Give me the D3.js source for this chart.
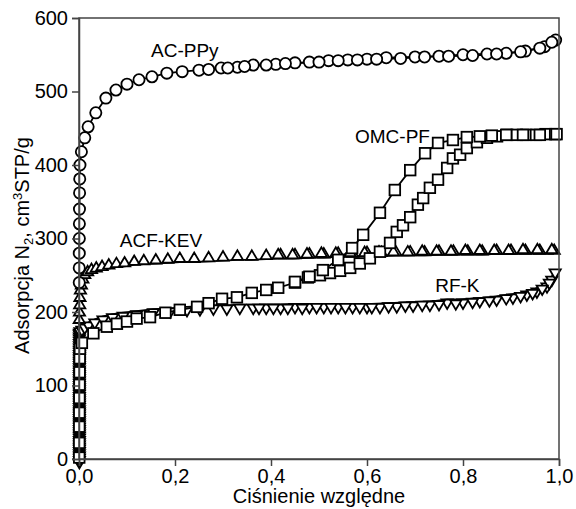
<!DOCTYPE html>
<html>
<head>
<meta charset="utf-8">
<script src="https://cdn.jsdelivr.net/npm/d3@7"></script>
<style>
    body { margin: 0; background: #fff; }
    svg text { font-family: "Liberation Sans", Arial, sans-serif; fill: #000; }
</style>
</head>
<body>
<div id="chart"></div>
<script>
'use strict';

// axis ticks
const xTicks = [0, 0.2, 0.4, 0.6, 0.8, 1.0];
const yTicks = [0, 100, 200, 300, 400, 500, 600];

// AC-PPy (circles) [p/p0, adsorption]
const acPPyAds = [
    [0.0005, 240], [0.0005, 260], [0.0006, 280], [0.0007, 300], [0.0008, 320], [0.001, 340],
    [0.0012, 362], [0.0015, 381], [0.002, 400], [0.005, 418], [0.012, 437], [0.019, 452],
    [0.035, 471], [0.056, 491], [0.077, 502], [0.1, 510], [0.125, 516], [0.152, 520],
    [0.183, 525], [0.215, 527], [0.25, 529], [0.296, 532], [0.33, 533], [0.363, 536],
    [0.41, 537], [0.45, 539], [0.48, 540], [0.52, 542], [0.56, 543], [0.6, 544], [0.64, 546],
    [0.7, 547], [0.75, 548], [0.8, 550], [0.85, 551], [0.89, 552], [0.93, 555], [0.97, 561],
    [0.993, 570]
];
const acPPyDes = [
    [0.985, 567], [0.96, 559], [0.92, 554], [0.87, 551], [0.82, 549], [0.77, 548], [0.72, 547],
    [0.67, 545], [0.62, 544], [0.58, 543], [0.54, 542], [0.5, 540], [0.43, 538], [0.39, 536],
    [0.345, 534], [0.31, 532], [0.27, 530]
];

// OMC-PF (squares)
const omcPFAds = [
    [0.0005, 2], [0.0005, 22], [0.0006, 44], [0.0007, 63], [0.0008, 83], [0.001, 101],
    [0.0012, 118], [0.0015, 137], [0.002, 150], [0.006, 158], [0.03, 171], [0.058, 180],
    [0.079, 184], [0.1, 187], [0.12, 191], [0.148, 193], [0.18, 199], [0.21, 203], [0.246, 207],
    [0.27, 212], [0.298, 218], [0.329, 220], [0.36, 226], [0.39, 230], [0.415, 233], [0.45, 240],
    [0.477, 247], [0.502, 250], [0.523, 253], [0.544, 256], [0.565, 260], [0.585, 266],
    [0.606, 273], [0.627, 282], [0.648, 294], [0.662, 309], [0.675, 318], [0.69, 329],
    [0.706, 346], [0.717, 355], [0.731, 369], [0.748, 380], [0.767, 396], [0.779, 409],
    [0.794, 414], [0.808, 423], [0.829, 431], [0.85, 437], [0.871, 439], [0.892, 441],
    [0.912, 441], [0.932, 441], [0.952, 441], [0.972, 442], [0.992, 442]
];
const omcPFDes = [
    [0.995, 442], [0.96, 441], [0.925, 441], [0.89, 441], [0.86, 440], [0.835, 439], [0.808, 438],
    [0.779, 434], [0.748, 430], [0.721, 416], [0.69, 393], [0.658, 366], [0.627, 335],
    [0.592, 305], [0.569, 287], [0.54, 271], [0.508, 257], [0.48, 248], [0.45, 241]
];

// ACF-KEV (up triangles)
const acfKEVAds = [
    [0.0005, 185], [0.001, 195], [0.0015, 205], [0.002, 215], [0.003, 225], [0.005, 232],
    [0.008, 240], [0.012, 246], [0.018, 250], [0.026, 253], [0.036, 255], [0.048, 257],
    [0.062, 259], [0.078, 261], [0.095, 262], [0.115, 264], [0.135, 265], [0.16, 266],
    [0.185, 267], [0.21, 268], [0.24, 268], [0.27, 269], [0.3, 270], [0.33, 271], [0.36, 271],
    [0.39, 272], [0.42, 273], [0.45, 273], [0.48, 274], [0.51, 274], [0.54, 275], [0.57, 275],
    [0.6, 276], [0.63, 276], [0.66, 277], [0.69, 277], [0.72, 277], [0.75, 278], [0.78, 278],
    [0.81, 278], [0.84, 278], [0.87, 279], [0.9, 279], [0.93, 279], [0.96, 279], [0.99, 279]
];
const acfKEVDes = [
    [0.985, 280], [0.955, 280], [0.925, 280], [0.895, 279], [0.865, 279], [0.835, 279],
    [0.805, 279], [0.775, 278], [0.745, 278], [0.715, 278], [0.685, 277], [0.655, 277],
    [0.625, 277], [0.595, 276], [0.565, 276], [0.535, 275], [0.505, 275], [0.475, 274],
    [0.445, 273], [0.415, 273]
];

// RF-K (down triangles): dense points at the very low pressure end
const rfKLowP = 0.0008;
const rfKLowV = [
    0, 3, 6, 9, 12, 15, 18, 21, 24, 27, 30, 33, 36, 39, 42, 45, 48, 51, 54, 57, 60, 63, 66, 69,
    72, 75, 78, 81, 84, 87, 90, 93, 96, 99, 102, 105, 108, 111, 114, 117, 120, 123, 126, 129,
    132, 135, 138, 141, 144, 147, 150, 153, 156, 159, 162, 165, 168, 171, 174, 176
];
const rfKAds = [
    [0.002, 178], [0.006, 180], [0.012, 183], [0.02, 186], [0.033, 190], [0.05, 194], [0.07, 197],
    [0.092, 199], [0.12, 201], [0.155, 204], [0.19, 205], [0.225, 207], [0.252, 208], [0.28, 209],
    [0.308, 209], [0.335, 210], [0.363, 210], [0.39, 210], [0.42, 210], [0.45, 211], [0.48, 211],
    [0.51, 211], [0.54, 211], [0.57, 211], [0.6, 211], [0.627, 211], [0.662, 212], [0.696, 213],
    [0.731, 214], [0.767, 217], [0.8, 217], [0.835, 219], [0.87, 221], [0.904, 224],
    [0.933, 228], [0.954, 232], [0.975, 239], [0.985, 248], [0.992, 258]
];
const rfKDes = [
    [0.98, 244], [0.965, 236], [0.945, 230], [0.92, 226], [0.89, 223], [0.855, 220], [0.82, 218],
    [0.785, 216], [0.75, 215], [0.715, 214], [0.68, 213], [0.645, 212], [0.61, 211], [0.585, 211],
    [0.555, 211], [0.525, 211], [0.495, 211], [0.465, 210], [0.435, 210], [0.405, 210], [0.375, 210]
];

// series labels [text, p/p0, value at baseline]
const seriesLabels = [
    ['AC-PPy', 0.15, 547],
    ['OMC-PF', 0.575, 430],
    ['ACF-KEV', 0.085, 288],
    ['RF-K', 0.742, 227]
];

const margin = {top: 18, right: 17, bottom: 50, left: 79};
const outerWidth = 576;
const outerHeight = 509;
const width = outerWidth - margin.left - margin.right;
const height = outerHeight - margin.top - margin.bottom;

const root = d3.select('#chart').append('svg')
    .attr('width', outerWidth)
    .attr('height', outerHeight);

const svg = root.append('g')
    .attr('transform', 'translate(' + margin.left + ',' + margin.top + ')');

const x = d3.scaleLinear().domain([0, 1]).range([0, width]);
const y = d3.scaleLinear().domain([0, 600]).range([height, 0]);

const fmt = d => d3.format('.1f')(d).replace('.', ',');

const valueline = d3.line()
    .x(d => x(d[0]))
    .y(d => y(d[1]));

// marker shapes
const triW = 5.6, triH = 9.5;
const markers = {
    circle: g => g.append('circle').attr('r', 5.6),
    square: g => g.append('rect').attr('x', -5.3).attr('y', -5.3).attr('width', 10.6).attr('height', 10.6),
    // base sits on the data point, like the original plot
    up: g => g.append('path').attr('d', 'M' + (-triW) + ',0L' + triW + ',0L0,' + (-triH) + 'Z'),
    down: g => g.append('path').attr('d', 'M' + (-triW) + ',0L' + triW + ',0L0,' + triH + 'Z')
};

function drawSeries(branches, shape){
    branches.forEach(data => {
        svg.append('path')
            .datum(data)
            .attr('fill', 'none')
            .attr('stroke', '#000')
            .attr('stroke-width', 1.8)
            .attr('d', valueline);
    });

    branches.forEach(data => {
        const pts = svg.append('g').selectAll('g')
            .data(data)
            .join('g')
            .attr('transform', d => 'translate(' + x(d[0]) + ',' + y(d[1]) + ')');
        markers[shape](pts)
            .attr('fill', '#fff')
            .attr('stroke', '#000')
            .attr('stroke-width', 1.8);
    });
}

const rfKLow = rfKLowV.map(v => [rfKLowP, v]);

drawSeries([rfKLow, rfKAds, rfKDes], 'down');
drawSeries([acfKEVAds, acfKEVDes], 'up');
drawSeries([omcPFAds, omcPFDes], 'square');
drawSeries([acPPyAds, acPPyDes], 'circle');

// frame
svg.append('rect')
    .attr('width', width)
    .attr('height', height)
    .attr('fill', 'none')
    .attr('stroke', '#444')
    .attr('stroke-width', 1.5);

const xAxis = d3.axisBottom(x)
    .tickValues(xTicks)
    .tickSize(7)
    .tickPadding(3)
    .tickFormat(fmt);

const yAxis = d3.axisLeft(y)
    .tickValues(yTicks)
    .tickSize(7)
    .tickPadding(4)
    .tickFormat(d3.format('d'));

const gx = svg.append('g')
    .attr('transform', 'translate(0,' + height + ')')
    .call(xAxis);

const gy = svg.append('g')
    .call(yAxis);

[gx, gy].forEach(g => {
    g.select('.domain').attr('stroke', '#444').attr('stroke-width', 1.5);
    g.selectAll('.tick line').attr('stroke', '#444').attr('stroke-width', 1.5);
    g.selectAll('.tick text').style('font-size', '20px');
});

// axis titles
svg.append('text')
    .attr('x', width / 2)
    .attr('y', height + 44)
    .attr('text-anchor', 'middle')
    .style('font-size', '20px')
    .text('Ciśnienie względne');

const yTitle = svg.append('text')
    .attr('transform', 'translate(' + (-50) + ',' + (height / 2 + 7) + ') rotate(-90)')
    .attr('text-anchor', 'middle')
    .style('font-size', '20px');
yTitle.append('tspan').text('Adsorpcja N');
yTitle.append('tspan').attr('dy', 4).style('font-size', '13px').text('2');
yTitle.append('tspan').attr('dy', -4).text(', cm');
yTitle.append('tspan').attr('dy', -7).style('font-size', '13px').text('3');
yTitle.append('tspan').attr('dy', 7).text('STP/g');

// series labels
svg.append('g').selectAll('text')
    .data(seriesLabels)
    .join('text')
    .attr('x', d => x(d[1]))
    .attr('y', d => y(d[2]))
    .style('font-size', '19px')
    .text(d => d[0]);
</script>
</body>
</html>
